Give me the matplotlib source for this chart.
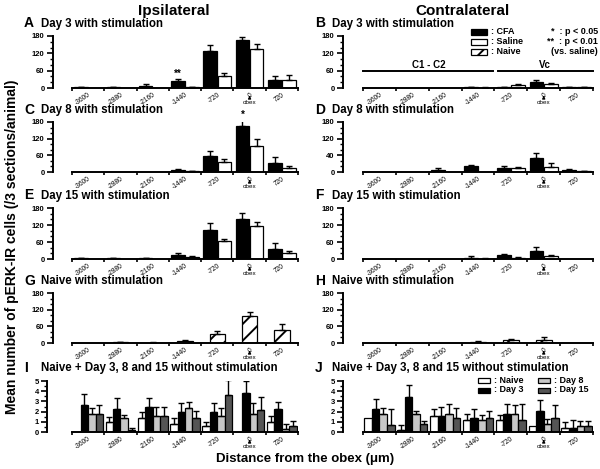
import matplotlib
matplotlib.use("Agg")
import matplotlib.pyplot as plt
import matplotlib.transforms as mtransforms
from matplotlib.patches import Rectangle
import numpy as np

plt.rcParams['font.family'] = ['Liberation Sans', 'DejaVu Sans']
plt.rcParams['font.weight'] = 'bold'
plt.rcParams['hatch.linewidth'] = 1.4
plt.rcParams['hatch.color'] = 'black'

# distance from the obex (um)
positions = ["-3600", "-2880", "-2160", "-1440", "-720", "0", "720"]

# A: ipsilateral, day 3 with stimulation
a_cfa = [2, 2, 8, 25, 128, 166, 27]
a_cfa_err = [1, 1, 6, 5, 20, 9, 13]
a_sal = [0, 0, 0, 3, 41, 136, 27]
a_sal_err = [0, 0, 0, 1, 10, 18, 17]
# B: contralateral, day 3
b_cfa = [1, 1, 1, 2, 3, 22, 3]
b_cfa_err = [0, 0, 0, 1, 1, 4, 2]
b_sal = [0, 0, 0, 1, 11, 14, 3]
b_sal_err = [0, 0, 0, 1, 4, 4, 1]
# C: ipsilateral, day 8
c_cfa = [0, 0, 0, 8, 56, 167, 32]
c_cfa_err = [0, 0, 0, 2, 18, 19, 21]
c_sal = [0, 0, 0, 3, 35, 92, 14]
c_sal_err = [0, 0, 0, 1, 12, 27, 9]
# D: contralateral, day 8
d_cfa = [1, 1, 7, 21, 15, 52, 8]
d_cfa_err = [0, 0, 6, 5, 8, 18, 2]
d_sal = [0, 0, 0, 0, 13, 17, 3]
d_sal_err = [0, 0, 0, 0, 6, 14, 1]
# E: ipsilateral, day 15
e_cfa = [2, 2, 2, 15, 103, 142, 34]
e_cfa_err = [1, 1, 1, 5, 24, 19, 22]
e_sal = [0, 0, 0, 7, 62, 117, 20]
e_sal_err = [0, 0, 0, 2, 9, 12, 10]
# F: contralateral, day 15
f_cfa = [0, 0, 0, 5, 13, 30, 1]
f_cfa_err = [0, 0, 0, 5, 3, 11, 0]
f_sal = [0, 0, 0, 1, 5, 12, 0]
f_sal_err = [0, 0, 0, 1, 1, 2, 0]
# G / H: naive with stimulation
g_naive = [1, 2, 1, 8, 34, 98, 48]
g_naive_err = [0, 1, 1, 2, 11, 12, 20]
h_naive = [1, 1, 0, 5, 12, 12, 1]
h_naive_err = [0, 0, 0, 1, 2, 10, 0]
# I: ipsilateral without stimulation
i_naive = [0, 0.98, 1.37, 0.82, 0.6, 0, 0.98]
i_naive_err = [0, 0.49, 0.63, 0.55, 0.38, 0, 0.59]
i_day3 = [2.68, 2.22, 2.45, 2.0, 2.0, 3.86, 2.22]
i_day3_err = [1.08, 1.11, 0.88, 0.88, 0.88, 1.11, 0.72]
i_day8 = [1.8, 1.37, 1.6, 2.4, 1.6, 1.8, 0.33]
i_day8_err = [0.55, 0.33, 0.9, 0.54, 0.8, 1.04, 0.49]
i_day15 = [1.8, 0.16, 1.6, 1.37, 3.66, 2.2, 0.59]
i_day15_err = [0.88, 0.24, 0.9, 0.69, 1.4, 1.23, 0.46]
# J: contralateral without stimulation
j_naive = [1.37, 0.16, 1.6, 1.2, 1.2, 0.56, 0.4]
j_naive_err = [0, 0.49, 0.69, 0.6, 0.43, 0, 0.58]
j_day3 = [2.22, 3.43, 1.6, 1.37, 1.8, 2.03, 0.4]
j_day3_err = [1.05, 1.15, 0.9, 0.85, 0.9, 1.07, 0.74]
j_day8 = [1.8, 1.8, 1.8, 1.2, 1.8, 0.75, 0.6]
j_day8_err = [0.55, 0.26, 0.9, 0.5, 0.8, 0.55, 0.45]
j_day15 = [0.65, 0.82, 1.37, 1.37, 1.2, 1.37, 0.6]
j_day15_err = [1.64, 0.23, 0.98, 0.69, 1.5, 1.23, 0.45]

W, H = 600, 469
fig = plt.figure(figsize=(W / 100, H / 100), dpi=100)

DARK = '#555555'
LIGHT = '#c8c8c8'


def px(x, y):
    return x / W, 1 - y / H


def make_ax(x0, x1, y_top, y_bot, ymax, offset):
    ax = fig.add_axes([x0 / W, 1 - y_bot / H, (x1 - x0) / W, (y_bot - y_top) / H])
    ax.set_xlim(-0.5, 6.5)
    ax.set_ylim(0, ymax)
    for s in ['top', 'right']:
        ax.spines[s].set_visible(False)
    ax.spines['left'].set_linewidth(1.4)
    ax.spines['bottom'].set_linewidth(1.4)
    ax.spines['left'].set_position(('outward', offset * 0.72))
    if ymax == 180:
        ax.set_yticks([0, 60, 120, 180])
        ax.set_yticks(np.arange(0, 181, 20), minor=True)
    else:
        ax.set_yticks(np.arange(0, 6, 1))
        ax.set_yticks(np.arange(0, 5.01, 0.5), minor=True)
    ax.tick_params(axis='y', which='major', length=4, width=1.2, labelsize=5.5, pad=2)
    ax.tick_params(axis='y', which='minor', length=2.5, width=1.0)
    ax.set_xticks(range(len(positions)))
    ax.set_xticklabels(positions, rotation=35, ha='right', va='top',
                       rotation_mode='anchor', fontsize=4.8, fontweight='normal')
    ax.set_xticks(np.arange(-0.5, 7, 1), minor=True)
    ax.tick_params(axis='x', which='major', length=0, pad=2.5)
    ax.tick_params(axis='x', which='minor', length=2.5, width=1.2)
    # obex marker under the 0 position
    trans = mtransforms.offset_copy(ax.get_xaxis_transform(), fig=fig, y=-5.5, units='points')
    ax.annotate('obex', xy=(5, 0), xycoords=trans, xytext=(0, -3),
                textcoords='offset points', ha='center', va='top', fontsize=4.5,
                fontweight='normal', annotation_clip=False,
                arrowprops=dict(arrowstyle='-|>', color='black', lw=0.8,
                                mutation_scale=4, shrinkA=0, shrinkB=0))
    return ax


def bars(ax, offset, width, vals, errs, color, hatch=None):
    x = np.arange(len(vals)) + offset
    ax.bar(x, vals, width=width, facecolor=color, edgecolor='black', linewidth=0.9,
           hatch=hatch, zorder=2)
    errs = np.asarray(errs, dtype=float)
    keep = errs > 0
    vals = np.asarray(vals, dtype=float)
    ax.errorbar(x[keep], vals[keep], yerr=[np.zeros(keep.sum()), errs[keep]],
                fmt='none', ecolor='black', elinewidth=1.0, capsize=2.2, capthick=1.0,
                zorder=3)


LX0, LX1 = 72, 298
RX0, RX1 = 363, 593
rows = [(36, 88), (122, 172), (208, 259), (293, 343), (381, 432)]

axA = make_ax(LX0, LX1, *rows[0], 180, 19)
axB = make_ax(RX0, RX1, *rows[0], 180, 20)
axC = make_ax(LX0, LX1, *rows[1], 180, 19)
axD = make_ax(RX0, RX1, *rows[1], 180, 20)
axE = make_ax(LX0, LX1, *rows[2], 180, 19)
axF = make_ax(RX0, RX1, *rows[2], 180, 20)
axG = make_ax(LX0, LX1, *rows[3], 180, 19)
axH = make_ax(RX0, RX1, *rows[3], 180, 20)
axI = make_ax(LX0, LX1, *rows[4], 5, 25)
axJ = make_ax(RX0, RX1, *rows[4], 5, 20)

# panel D has its 60 tick printed as 40 in the original
axD.set_yticklabels(['0', '40', '120', '180'])

for ax, cfa, cfa_e, sal, sal_e in [
        (axA, a_cfa, a_cfa_err, a_sal, a_sal_err),
        (axB, b_cfa, b_cfa_err, b_sal, b_sal_err),
        (axC, c_cfa, c_cfa_err, c_sal, c_sal_err),
        (axD, d_cfa, d_cfa_err, d_sal, d_sal_err),
        (axE, e_cfa, e_cfa_err, e_sal, e_sal_err),
        (axF, f_cfa, f_cfa_err, f_sal, f_sal_err)]:
    bars(ax, -0.22, 0.42, cfa, cfa_e, 'black')
    bars(ax, 0.22, 0.42, sal, sal_e, 'white')

bars(axG, 0, 0.48, g_naive, g_naive_err, 'white', hatch='//')
bars(axH, 0, 0.48, h_naive, h_naive_err, 'white', hatch='//')

for ax, n, ne, d3, d3e, d8, d8e, d15, d15e in [
        (axI, i_naive, i_naive_err, i_day3, i_day3_err, i_day8, i_day8_err, i_day15, i_day15_err),
        (axJ, j_naive, j_naive_err, j_day3, j_day3_err, j_day8, j_day8_err, j_day15, j_day15_err)]:
    bars(ax, -0.345, 0.23, n, ne, 'white')
    bars(ax, -0.115, 0.23, d3, d3e, 'black')
    bars(ax, 0.115, 0.23, d8, d8e, LIGHT)
    bars(ax, 0.345, 0.23, d15, d15e, DARK)

# significance marks
axA.annotate('**', xy=(3 - 0.22, a_cfa[3] + a_cfa_err[3]), xytext=(0, 0),
             textcoords='offset points', ha='center', va='bottom', fontsize=7)
axC.annotate('*', xy=(5 - 0.22, c_cfa[5] + c_cfa_err[5]), xytext=(0, 0),
             textcoords='offset points', ha='center', va='bottom', fontsize=7,
             annotation_clip=False)

# region lines in panel B
axB.plot([-0.5, 3.45], [60, 60], color='black', lw=1.4, clip_on=False)
axB.plot([3.6, 6.5], [60, 60], color='black', lw=1.4, clip_on=False)
axB.text(1.5, 64, 'C1 - C2', ha='center', va='bottom', fontsize=7)
axB.text(5.05, 64, 'Vc', ha='center', va='bottom', fontsize=7)

# titles
fig.text(*px(174, 11), 'Ipsilateral', ha='center', va='center', fontsize=11)
fig.text(*px(463, 11), 'Contralateral', ha='center', va='center', fontsize=11)

panel_titles = [
    ('A', 'Day 3 with stimulation', 24, 23),
    ('B', 'Day 3 with stimulation', 315, 23),
    ('C', 'Day 8 with stimulation', 24, 110),
    ('D', 'Day 8 with stimulation', 315, 110),
    ('E', 'Day 15 with stimulation', 24, 195),
    ('F', 'Day 15 with stimulation', 315, 195),
    ('G', 'Naive with stimulation', 24, 281),
    ('H', 'Naive with stimulation', 315, 281),
    ('I', 'Naive + Day 3, 8 and 15 without stimulation', 24, 367.5),
    ('J', 'Naive + Day 3, 8 and 15 without stimulation', 315, 367.5),
]
for letter, title, x, y in panel_titles:
    fig.text(*px(x, y), letter, ha='left', va='center', fontsize=10)
    fig.text(*px(x + 17, y + 0.5), title, ha='left', va='center', fontsize=8.3)

fig.text(*px(12, 247), 'Mean number of pERK-IR cells (/3 sections/animal)',
         rotation=90, ha='center', va='center', fontsize=10)
fig.text(*px(305, 459), 'Distance from the obex (\u03bcm)', ha='center', va='center', fontsize=9.5)


# legends drawn as small boxes in figure pixels
def legend_box(x, y, color, text, hatch=None, w=16, h=6):
    fx, fy = px(x, y + h / 2)
    fig.add_artist(Rectangle((fx, fy), w / W, h / H, transform=fig.transFigure,
                             facecolor=color, edgecolor='black', linewidth=0.9, hatch=hatch))
    fig.text(*px(x + w + 4, y), text, ha='left', va='center', fontsize=6.5)


legend_box(471, 32, 'black', ': CFA')
legend_box(471, 42, 'white', ': Saline')
legend_box(471, 52, 'white', ': Naive', hatch='//')
fig.text(*px(598, 32), '*  : p < 0.05', ha='right', va='center', fontsize=6.5)
fig.text(*px(598, 42), '**  : p < 0.01', ha='right', va='center', fontsize=6.5)
fig.text(*px(598, 52), '(vs. saline)', ha='right', va='center', fontsize=6.5)

legend_box(478, 380, 'white', ': Naive', w=12, h=5)
legend_box(478, 390, 'black', ': Day 3', w=12, h=5)
legend_box(538, 380, LIGHT, ': Day 8', w=12, h=5)
legend_box(538, 390, DARK, ': Day 15', w=12, h=5)

fig.savefig('out.png', dpi=100)
